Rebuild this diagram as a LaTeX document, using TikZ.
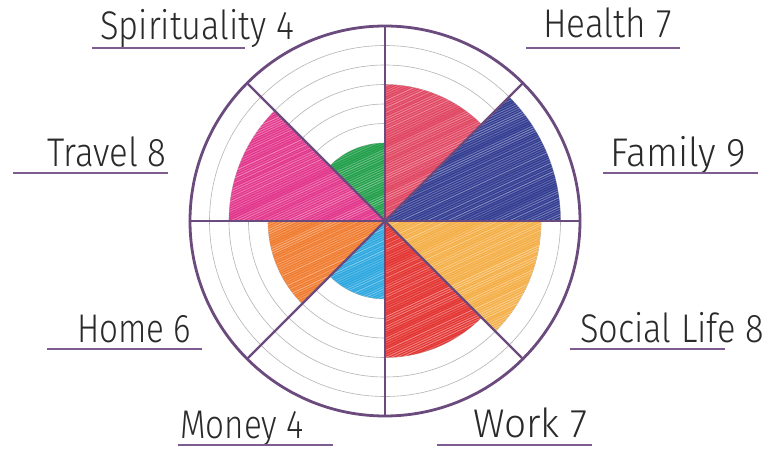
\documentclass[tikz,border=0pt]{standalone}
\usepackage{fontspec}
\setmainfont{Fira Sans Light}
\usepackage{graphicx}
\definecolor{rimcol}{HTML}{6B4B7D}
\definecolor{ulcol}{HTML}{7E5C8F}
\definecolor{ringcol}{HTML}{B4B4B4}
\definecolor{ink}{HTML}{2A2A2A}
\definecolor{cFamily}{HTML}{2F3A90}
\definecolor{cHealth}{HTML}{E0435F}
\definecolor{cSpirit}{HTML}{1F9E48}
\definecolor{cTravel}{HTML}{E2338A}
\definecolor{cHome}{HTML}{F07A2C}
\definecolor{cMoney}{HTML}{2BA7DF}
\definecolor{cWork}{HTML}{E3322F}
\definecolor{cSocial}{HTML}{F4AE45}
\newcommand\hw[2]{\scalebox{#1}[1]{#2}}
\begin{document}
\begin{tikzpicture}[x=1pt,y=1pt,
  ring/.style={draw=ringcol,line width=0.6pt},
  rim/.style={draw=rimcol,line width=2.8pt},
  spoke/.style={draw=rimcol,line width=2.4pt},
  hatch/.style={draw=white,line width=0.9pt},
  uline/.style={draw=ulcol,line width=2.8pt},
  lbl/.style={font=\fontsize{40}{40}\selectfont,text=ink,inner sep=0pt,anchor=base west}]
\useasboundingbox (0,0) rectangle (771,453);
\fill[white] (0,0) rectangle (771,453);
\def\u{19.5}
\coordinate (c) at (385,232);
% rings
\foreach \k in {1,...,9} \draw[ring] (c) circle[radius=\k*\u];
% sectors
\foreach \a/\r/\col in {0/9/cFamily,45/7/cHealth,90/4/cSpirit,135/8/cTravel,180/6/cHome,225/4/cMoney,270/7/cWork,315/8/cSocial}
  \fill[\col] (c) -- ++(\a:{\r*\u}) arc[start angle=\a,delta angle=45,radius=\r*\u] -- cycle;
% scribble texture
\pgfmathsetseed{7}
\begin{scope}
\clip \foreach \a/\r in {0/9,45/7,90/4,135/8,180/6,225/4,270/7,315/8}
  { (c) -- ++(\a:{\r*\u}) arc[start angle=\a,delta angle=45,radius=\r*\u] -- cycle };
\foreach \i in {-300,-297.6,...,300}
  {\pgfmathsetmacro\op{0.12+0.33*rnd}
   \draw[hatch,draw opacity=\op,shift={(c)}] (-200,\i-93) -- (200,\i+93);}
\end{scope}
% spokes and rim
\foreach \a in {0,45,...,315} \coordinate (p\a) at ([shift={(\a:{10*\u})}]c);
\draw[spoke] (p0) -- (p180);
\draw[spoke] (p45) -- (p225);
\draw[spoke] (p90) -- (p270);
\draw[spoke] (p135) -- (p315);
\draw[rim] (c) circle[radius=10*\u];
% labels
\node[lbl] (spirit) at (100,413) {\hw{0.86}{Spirituality 4}};
\node[lbl] (travel) at (47,286) {\hw{0.87}{Travel 8}};
\node[lbl] (health) at (543,415) {\hw{0.88}{Health 7}};
\node[lbl] (family) at (610,286) {\hw{0.94}{Family 9}};
\node[lbl] (home) at (77,111) {\hw{0.83}{Home 6}};
\node[lbl] (money) at (180,15) {\hw{0.83}{Money 4}};
\node[lbl] (social) at (580,111) {\hw{0.86}{Social Life 8}};
\node[lbl] (work) at (473,16) {\hw{0.97}{Work 7}};
% underlines
\coordinate (s1) at (92,405); \coordinate (s2) at (245,405);
\coordinate (t1) at (13,280); \coordinate (t2) at (168,280);
\coordinate (h1) at (526,405); \coordinate (h2) at (680,405);
\coordinate (f1) at (603,280); \coordinate (f2) at (758,280);
\coordinate (o1) at (47,104); \coordinate (o2) at (202,104);
\coordinate (m1) at (178,8); \coordinate (m2) at (333,8);
\coordinate (l1) at (570,104); \coordinate (l2) at (725,104);
\coordinate (w1) at (437,8); \coordinate (w2) at (592,8);
\foreach \p in {s,t,h,f,o,m,l,w} \draw[uline] (\p1) -- (\p2);
\end{tikzpicture}
\end{document}
